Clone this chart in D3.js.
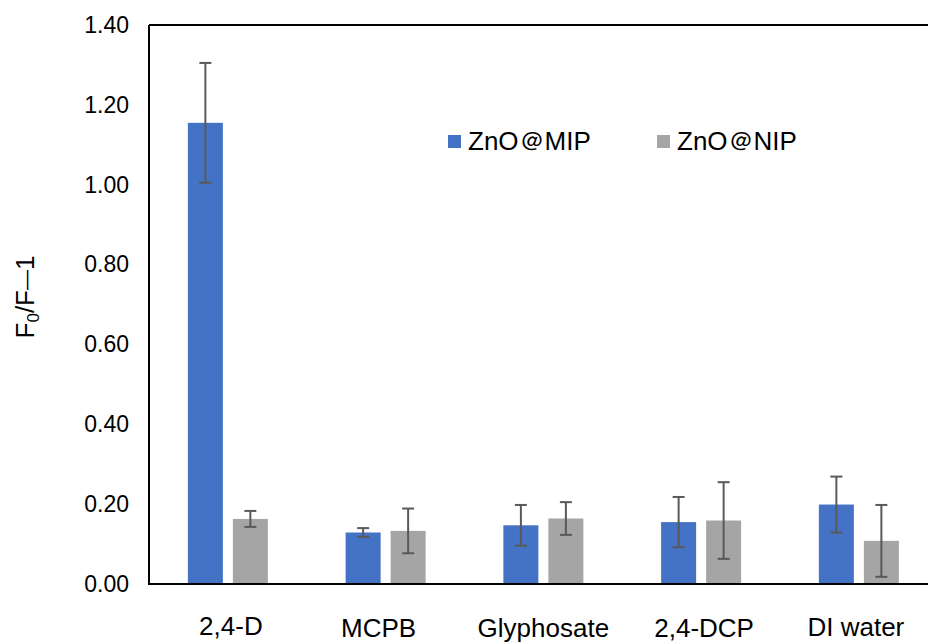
<!DOCTYPE html>
<html>
<head>
<meta charset="utf-8">
<script src="https://cdn.jsdelivr.net/npm/d3@7"></script>
<style>
  html, body { margin: 0; padding: 0; background: #fff; }
  svg { display: block; font-family: Arial, "Liberation Sans", sans-serif; }
</style>
</head>
<body>
<svg id="chart" width="928" height="643"></svg>
<script>
// Analytes tested
const categories = ["2,4-D", "MCPB", "Glyphosate", "2,4-DCP", "DI water"];
// Series names
const seriesNames = ["ZnO\uFF20MIP", "ZnO\uFF20NIP"];
// F0/F-1 response and standard deviation, imprinted polymer
const mipValues = [1.155, 0.129, 0.147, 0.155, 0.199];
const mipErrors = [0.150, 0.011, 0.051, 0.063, 0.070];
// F0/F-1 response and standard deviation, non-imprinted polymer
const nipValues = [0.163, 0.133, 0.164, 0.159, 0.108];
const nipErrors = [0.020, 0.056, 0.041, 0.096, 0.090];
// Y axis ticks
const yTicks = [0, 0.2, 0.4, 0.6, 0.8, 1.0, 1.2, 1.4];

const colors = ["#4472C4", "#A5A5A5"];
const errColor = "#595959";

const margin = { left: 149, top: 25, bottom: 584 };
const step = 157.75;

const svg = d3.select("#chart");

const x = d3.scaleBand()
  .domain(categories)
  .range([margin.left, margin.left + step * categories.length])
  .padding(0);

const xSub = d3.scaleBand()
  .domain(seriesNames)
  .range([0, 80])
  .paddingInner(0.2222);

const y = d3.scaleLinear()
  .domain([0, 1.4])
  .range([margin.bottom, margin.top]);

// Build the table of bars
const rows = [];
categories.forEach((c, i) => {
  rows.push({ cat: c, series: seriesNames[0], value: mipValues[i], err: mipErrors[i], color: colors[0] });
  rows.push({ cat: c, series: seriesNames[1], value: nipValues[i], err: nipErrors[i], color: colors[1] });
});

const groupX = c => x(c) + x.bandwidth() / 2 - 40;

// Bars
svg.append("g")
  .selectAll("rect")
  .data(rows)
  .join("rect")
  .attr("x", d => groupX(d.cat) + xSub(d.series))
  .attr("y", d => y(d.value))
  .attr("width", xSub.bandwidth())
  .attr("height", d => y(0) - y(d.value))
  .attr("fill", d => d.color);

// Error bars
const eb = svg.append("g")
  .attr("stroke", errColor)
  .attr("stroke-width", 2)
  .attr("fill", "none");

rows.forEach(d => {
  const cx = groupX(d.cat) + xSub(d.series) + xSub.bandwidth() / 2;
  const y1 = y(d.value + d.err), y2 = y(Math.max(0, d.value - d.err));
  eb.append("line").attr("x1", cx).attr("x2", cx).attr("y1", y1).attr("y2", y2);
  eb.append("line").attr("x1", cx - 6).attr("x2", cx + 6).attr("y1", y1).attr("y2", y1);
  eb.append("line").attr("x1", cx - 6).attr("x2", cx + 6).attr("y1", y2).attr("y2", y2);
});

// Plot frame (right side runs past the page edge)
const frame = svg.append("g").attr("stroke", "#000").attr("stroke-width", 2).attr("fill", "none");
frame.append("path")
  .attr("d", `M${margin.left},${margin.top}H${940}M${margin.left},${margin.top}V${margin.bottom}H${940}`);

// Y axis tick labels
const yAxis = d3.axisLeft(y)
  .tickValues(yTicks)
  .tickFormat(d3.format(".2f"))
  .tickSize(0)
  .tickPadding(20);

svg.append("g")
  .attr("transform", `translate(${margin.left},0)`)
  .call(yAxis)
  .call(g => g.select(".domain").remove())
  .call(g => g.selectAll("text")
    .attr("font-size", 23)
    .attr("font-family", "Arial, 'Liberation Sans', sans-serif")
    .attr("fill", "#000"));

// Category labels, hand-nudged the way they sit under each group
const labelNudge = [[3, -2], [-7, 0], [0, 0], [3, 0], [-3, -1]];
svg.append("g")
  .selectAll("text")
  .data(categories)
  .join("text")
  .attr("x", (d, i) => x(d) + x.bandwidth() / 2 + labelNudge[i][0])
  .attr("y", (d, i) => 637 + labelNudge[i][1])
  .attr("text-anchor", "middle")
  .attr("font-size", 26)
  .attr("fill", "#000")
  .text(d => d);

// Y axis title: F0/F—1
const yTitle = svg.append("text")
  .attr("transform", "translate(34,297) rotate(-90)")
  .attr("text-anchor", "middle")
  .attr("font-size", 26)
  .attr("fill", "#000");
yTitle.append("tspan").text("F");
yTitle.append("tspan").attr("font-size", 17).attr("dy", 5).text("0");
yTitle.append("tspan").attr("dy", -5).text("/F");
yTitle.append("tspan").attr("font-size", 20).attr("dy", -1.5).text("\u2014");
yTitle.append("tspan").attr("dy", 1.5).text("1");

// Legend
const legendX = [448, 657];
const legend = svg.append("g")
  .selectAll("g")
  .data(seriesNames)
  .join("g")
  .attr("transform", (d, i) => `translate(${legendX[i]},135)`);
legend.append("rect")
  .attr("width", 13).attr("height", 13)
  .attr("fill", (d, i) => colors[i]);
legend.append("text")
  .attr("x", 20).attr("y", 15)
  .attr("font-size", 26)
  .attr("fill", "#000")
  .text(d => d);
</script>
</body>
</html>
